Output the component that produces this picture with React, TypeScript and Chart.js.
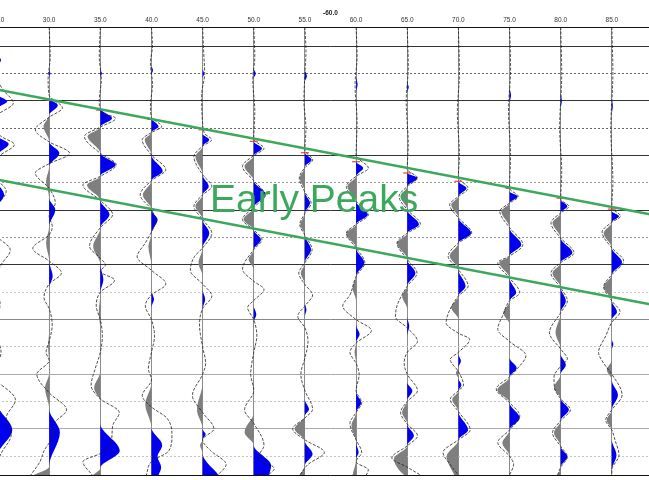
import React, { useEffect, useRef } from "react";
import { Chart, registerables } from "chart.js";

Chart.register(...registerables);

// ---- data -------------------------------------------------------------
const traceOffsets = [25, 30, 35, 40, 45, 50, 55, 60, 65, 70, 75, 80, 85];
const xTickLabels = ["25.0", "30.0", "35.0", "40.0", "45.0", "50.0", "55.0", "60.0", "65.0", "70.0", "75.0", "80.0", "85.0"];
const shotLabel = "-60.0";
const annotationText = "Early Peaks";
const annotationAt = [45.73, 40.29];
const yGridValues = [6.5, 10, 15, 20, 25, 30, 35, 40, 45, 50, 55, 60, 65, 70, 75, 80, 85, 88.43];

// first-break picks (time) for offsets 30..85
const pickOffsets = [30, 35, 40, 45, 50, 55, 60, 65, 70, 75, 80, 85];
const pickTimes = [19.9, 21.7, 23.4, 25.3, 27.4, 29.5, 31.15, 33.2, 34.7, 36.0, 37.8, 39.8];

// green guide lines [offset, time]
const upperLine = [[25, 17.97], [90, 41.2]];
const lowerLine = [[25, 34.43], [90, 57.66]];

// filled wiggle traces: [time, amplitude]
const fill25 = [[6.5,0],[11.5,0],[12.6,0.3],[13.6,0],[18.9,0],[20.1,0.9],[21.4,0],[23.9,-0.8],[26.5,0],[27.9,1.05],[29.9,0],[32.5,-0.8],[34.8,0],[37.2,0.6],[39.4,0],[42,-0.6],[45,0],[60,0],[62,-0.4],[65,0],[70,-0.8],[75.5,0],[80.2,1.4],[84.8,0],[87,-1.0],[88.43,-1.2]];
const fill30 = [[6.5,0],[14.2,0],[15,0.12],[15.8,0],[19.5,0],[20.8,0.85],[22.6,0],[24.7,-0.55],[27.45,0],[29.6,1.0],[32.0,0],[34.7,-0.3],[37.8,0],[39.9,0.6],[42.95,0],[46.0,-0.3],[49.3,0],[52.1,0.35],[54.2,0],[62,0],[65,-0.1],[68,0],[69.8,0],[72.5,-0.4],[76.3,0],[80.6,1.05],[86.9,0],[88.43,-1.5]];
const fill35 = [[6.5,0],[14.2,0],[15,0.15],[15.8,0],[21.4,0],[23.2,1.15],[24.8,0],[26.5,-1.25],[29.6,0],[31.7,1.5],[33.8,0],[35.4,-1.3],[38.2,0],[40.8,0.9],[43.25,0],[46.6,-0.7],[49.9,0],[52.7,0.3],[55.1,0],[58.75,-0.15],[61.8,0],[69.5,0],[72.5,-0.6],[75,0],[79,0],[84,1.9],[87.2,0],[88.43,-0.7]];
const fill40 = [[6.5,0],[13.5,0],[14.4,0.15],[15.3,0],[23.2,0],[24.7,0.7],[25.8,0],[27.1,-0.65],[29.9,0],[32.9,1.1],[34.6,0],[37.2,-0.85],[39.9,0],[41.7,0.6],[44.3,0],[46.6,-0.3],[50.2,0],[54.8,0],[56.3,0.25],[57.8,0],[71.5,0],[75.5,-0.6],[79.8,0],[83,1.05],[85.1,0.6],[87,0.95],[88.43,0.7]];
const fill45 = [[6.5,0],[14.1,0],[15,0.15],[15.9,0],[26.0,0],[27.1,0.65],[28.3,0],[30.2,-0.7],[33.5,0],[35.65,0.6],[37.2,0],[39.3,-0.7],[41.7,0],[44.2,0.65],[46.9,0],[49.6,-0.4],[52.1,0],[54.5,0],[56.3,0.25],[58.15,0],[71.5,0],[76.5,-0.55],[80,0],[81,0.3],[82,0],[83,-0.25],[84.5,0],[88.43,1.55]];
const fill50 = [[6.5,0],[14.1,0],[15,0.2],[15.9,0],[27.45,0],[28.7,0.8],[30.0,0],[32.0,-0.9],[34.6,0],[37.2,1.2],[39.5,0],[41.7,-1.0],[43.6,0],[45.4,0.7],[47.2,0],[49.0,-0.5],[50.85,0],[57.5,0],[59.1,0.25],[60.5,0],[77,0],[80.6,-0.9],[83,0],[86.7,1.7],[88.43,1.5]];
const fill55 = [[6.5,0],[14.3,0],[15.5,0.2],[16.5,0],[29.5,0],[30.8,0.65],[32.1,0],[34.1,-0.5],[36.7,0],[38.7,0.5],[40.6,0],[42.6,-0.45],[44.6,0],[47.2,0.6],[49.6,0],[51.5,-0.4],[53.6,0],[57,0],[58.2,0.15],[59.4,0],[74.6,0],[76.4,0.4],[77.6,0],[80,-1.0],[82.2,0],[84.6,0.75],[86.7,0],[88.43,-0.5]];
const fill60 = [[6.5,0],[15.5,0],[17,0.15],[18.5,0],[31.1,0],[32.3,0.7],[33.8,0],[35.65,-0.85],[38.4,0],[40.8,1.15],[42.6,0],[44.2,-0.95],[46.9,0],[49.6,0.8],[52.1,0],[54.2,-0.35],[56.6,0],[61,0],[62.7,0.35],[64.2,0],[66,-0.15],[67.9,0],[73.3,0],[75.2,0.5],[77,0],[79.4,-0.45],[82.5,0],[84.3,0.25],[85.5,0],[88.43,-0.35]];
const fill65 = [[6.5,0],[16.5,0],[17.5,0.15],[18.5,0],[33.2,0],[34.1,1.0],[35.65,0],[37.5,-0.65],[39.9,0],[42.6,1.15],[44.2,0],[46.0,-1.0],[49.0,0],[51.5,0.8],[53.9,0],[55.7,-0.5],[58.15,0],[59.5,0],[61.2,0.2],[63,0],[71.5,0],[73.0,0.5],[74.8,0],[77.0,-0.5],[79.1,0],[81.25,0.65],[83.1,0],[85.5,-1.3],[87.5,-0.8],[88.43,-0.3]];
const fill70 = [[6.5,0],[34.7,0],[36.0,0.8],[37.5,0],[39.0,-0.7],[41.4,0],[44.2,1.25],[46.0,0],[48.4,-0.85],[50.85,0],[53.9,0.7],[55.7,0],[57.8,-0.7],[60,0],[66.3,0],[67.6,0.25],[68.8,0],[69.8,-0.25],[70.8,0],[72,0.3],[73,0],[74.6,-0.6],[76.8,0],[80.2,0.95],[82,0],[85.1,-1.15],[88.43,-0.4]];
const fill75 = [[6.5,0],[17.5,0],[19,0.15],[20.5,0],[36.6,0],[37.5,0.8],[38.7,0],[40.2,-0.8],[43.25,0],[46.3,1.15],[48.4,0],[49.6,-1.0],[52.4,0],[55.1,0.65],[56.6,0],[58.75,-0.6],[60.9,0],[67,0],[68.9,0.7],[70.5,0],[72.9,-1.2],[75.2,0],[78,1.0],[80.2,0],[82.6,-0.7],[85,0],[88.43,0]];
const fill80 = [[6.5,0],[18.5,0],[20,0.12],[21.5,0],[38.1,0],[39.3,0.65],[40.5,0],[42.3,-0.8],[45.1,0],[47.8,1.15],[49.6,0],[51.5,-0.8],[54.2,0],[56.6,0.5],[58.75,0],[62.4,-0.5],[65.4,0],[66.3,0],[68.3,0.5],[70,0],[72.5,-0.65],[74.5,0],[76.5,0.8],[78.5,0],[80.7,-0.65],[83.2,0],[85.1,0.65],[87,0],[88.43,-0.3]];
const fill85 = [[6.5,0],[19.5,0],[21,0.1],[22.5,0],[40.2,0],[41.1,0.7],[42.2,0],[44.2,-0.8],[46.9,0],[49.5,1.0],[51.8,0],[54.0,-0.8],[56.6,0],[58.6,0.5],[60,0],[63.7,0],[64.5,0.15],[65.5,0],[67.4,0],[69.2,-0.5],[71.1,0],[73.8,0.6],[76.5,0],[78.4,-0.5],[80.2,0],[82,0],[84.8,0.45],[87.5,0],[88.43,0]];

// thin dashed overlay traces: [time, amplitude]
const wiggle25 = [[6.5,0],[16,0],[18,0.5],[20.4,1.5],[22.5,0],[24.5,-0.6],[26.5,0.3],[28,1.6],[30,0.2],[33,-0.8],[36.5,0.8],[40,-0.3],[44,-0.4],[47.3,1.2],[50,0.3],[53,-0.3],[57,0.2],[62,-0.2],[66,0.3],[70,-0.5],[74.7,1.7],[78,0.8],[81,1.3],[84.5,0.3],[88.43,-0.5]];
const wiggle30 = [[6.5,0],[12,0.1],[16,-0.1],[19,0],[21.3,1.3],[23,0],[25.3,-1.35],[27.5,0],[29.6,2.0],[31.5,0],[33.2,-1.35],[36,0],[38.7,0.6],[41,0],[43,0.3],[44.5,0],[47,-1.6],[49.3,0],[51.5,1.2],[53.5,0],[56,-0.5],[58,0],[61,0.3],[64,0],[66,-0.3],[67.5,0],[70,-1.2],[73.4,0],[76.5,1.7],[79,0.5],[81.5,0.3],[84,-0.5],[86,-0.9],[88.43,-1.8]];
const wiggle35 = [[6.5,0],[12,-0.1],[16,0.1],[20,-0.1],[22,0],[23.2,1.5],[24.8,0],[26.5,-1.55],[29.6,0],[31.7,1.55],[33.8,0],[35.4,-1.7],[38.2,0],[40.8,1.2],[43.2,0],[46.6,-1.05],[48.8,0],[50,0.5],[51.2,0],[52.8,1.4],[55,0],[57.5,-0.4],[60,0],[63,0.2],[66,0],[69,-0.5],[72,-0.9],[74.5,0],[77,1.85],[79.5,1.2],[83,1.0],[84.5,0],[86,-1.7],[88.43,-0.8]];
const wiggle40 = [[6.5,0],[10,0.1],[13,-0.1],[17,0.1],[21,-0.1],[23,0],[24.7,1.0],[25.8,0],[27.1,-0.9],[29.9,0],[32.6,1.4],[34.6,0],[37.2,-1.1],[39.9,0],[42,0.4],[44,0],[46,-0.6],[48.5,-1.4],[51,0],[53.5,1.4],[55.5,0],[57.5,-0.6],[60,0],[63,0.3],[66,0],[69,-0.3],[71,0],[73.9,-0.9],[76,0],[78,1.5],[81.3,2.0],[84,1.7],[86,0],[88.43,-0.5]];
const wiggle45 = [[6.5,0],[11,0.1],[15,0.2],[19,-0.1],[24,0],[26,0.2],[27.1,0.9],[28.3,0],[30.2,-0.85],[33.5,0],[35.65,0.9],[37.2,0],[39.3,-0.85],[41.7,0],[44.2,0.9],[46.9,0],[48.5,-0.8],[51,-1.2],[53.5,0],[55.7,0.9],[58,0],[61,-0.3],[65,0],[68,0.3],[70,0],[73.9,-1.0],[77,0],[80,1.1],[82,0],[84,0.8],[86.5,2.3],[88.43,1.5]];
const wiggle50 = [[6.5,0],[12,0.1],[16,-0.1],[22,0.1],[27,0],[28.7,1.0],[30,0],[32,-1.1],[34.6,0],[37.2,1.1],[39.5,0],[41.7,-1.1],[43.6,0],[45.4,0.8],[47.2,0],[50.8,-1.1],[53,0],[54.5,1.0],[56.5,0],[57.8,-0.6],[60,0],[63,0.3],[66,0],[70,-0.3],[73,0],[76.5,-0.9],[79,0],[83,1.0],[85,0.5],[87.3,2.0],[88.43,1.4]];
const wiggle55 = [[6.5,0],[11,0.1],[15,0],[20,-0.1],[25,0.1],[29,0],[30.8,0.75],[32.2,0],[34.1,-0.55],[36.7,0],[38.7,0.6],[40.6,0],[42.6,-0.5],[44.6,0],[47.2,0.7],[49.6,0],[51.5,-0.6],[53.6,0],[55.5,0.75],[57.5,0],[59.4,-0.7],[61.5,0],[64,0.3],[67,0],[70,-0.4],[73,0],[76.4,0.75],[78,0],[80,-1.2],[82,0],[84.3,1.9],[86.5,0.3],[88.43,-0.5]];
const wiggle60 = [[6.5,0],[12,0.1],[17,-0.1],[24,0.1],[30,0],[32.3,1.2],[33.8,0],[35.65,-0.95],[38.4,0],[40.8,1.2],[42.6,0],[44.2,-0.95],[46.9,0],[49.6,0.85],[52.1,0],[55.5,-0.6],[57.5,-1.3],[60,0],[62,1.5],[64.3,0],[66,-0.6],[68,0],[70,0.3],[73,0],[75.2,0.55],[77,0],[79,-0.6],[82,0],[84.3,0.55],[86,0],[87.5,1.2],[88.43,1.0]];
const wiggle65 = [[6.5,0],[14,0.1],[20,-0.1],[28,0.1],[32.5,0],[34.1,1.0],[35.65,0],[37.5,-0.8],[39.9,0],[42.6,1.3],[44.2,0],[46,-1.0],[49,0],[51.5,0.95],[53.9,0],[57.5,-1.0],[59.5,-1.15],[61.5,0],[64,1.0],[66,0],[68,-0.3],[70,0],[73,1.0],[75,0],[77,-0.65],[79.1,0],[81.25,1.0],[83.1,0],[85.3,-1.5],[87,0],[88.43,1.3]];
const wiggle70 = [[6.5,0],[15,0.1],[22,-0.1],[30,0.1],[34,0],[36,0.95],[37.5,0],[39,-0.85],[41.4,0],[44.2,1.3],[46,0],[48.4,-1.0],[50.85,0],[53.9,0.95],[55.7,0],[58.5,-0.9],[60.6,-1.2],[62.5,0],[63.6,1.1],[66,0],[67.3,-0.8],[69.5,0],[72,0.5],[73,0],[74.6,-0.8],[76.8,0],[80.2,1.15],[82,0],[84.3,-1.5],[86.5,-0.8],[88.43,0]];
const wiggle75 = [[6.5,0],[14,0.1],[22,-0.1],[30,0.1],[36,0],[37.5,0.85],[38.7,0],[40.2,-0.95],[43.2,0],[46.3,1.3],[48.4,0],[49.6,-1.15],[52.4,0],[55.1,1.0],[56.6,0],[59,-0.6],[61.8,-1.15],[64,0],[66.6,1.6],[68.9,0.8],[70.5,0],[72.7,-1.3],[75.2,0],[77.6,1.0],[80.2,0],[82.5,-1.15],[85,0],[86.5,0.4],[88.43,0]];
const wiggle80 = [[6.5,0],[15,0.1],[25,-0.1],[33,0.1],[38,0],[39.3,0.8],[40.5,0],[42.3,-0.95],[45.1,0],[47.8,1.3],[49.6,0],[51.5,-0.95],[54.2,0],[56.6,0.65],[58.75,0],[62.4,-1.1],[65.4,0],[67.2,0.65],[68.5,0],[70.5,-0.65],[72.5,-0.6],[74.5,0],[76.5,0.95],[78.5,0],[80.7,-0.8],[83.2,0],[85.1,0.65],[87,0],[88.43,-0.3]];
const wiggle85 = [[6.5,0],[15,0.1],[25,-0.1],[35,0.1],[39.5,0],[41.1,0.85],[42.2,0],[44,-0.95],[46.9,0],[49.3,1.15],[51.8,0],[54,-0.8],[56.6,0],[58.6,0.8],[60.5,0],[63,-0.6],[66,-1.3],[68,-0.8],[70,0],[73.8,1.0],[76.5,0],[78.4,-0.6],[80.2,0],[82,0.3],[84.8,0.7],[87.5,0],[88.43,0]];

const fills = [fill25, fill30, fill35, fill40, fill45, fill50, fill55, fill60, fill65, fill70, fill75, fill80, fill85];
const wiggles = [wiggle25, wiggle30, wiggle35, wiggle40, wiggle45, wiggle50, wiggle55, wiggle60, wiggle65, wiggle70, wiggle75, wiggle80, wiggle85];

// ---- styles -------------------------------------------------------------
const GREEN = "#3ca85c";
const BLUE = "#0000ee";
const GREY = "#7f7f7f";

function buildDatasets() {
  const ds: any[] = [];
  ds.push({
    data: upperLine.map(([x, y]) => ({ x, y })),
    borderColor: GREEN, borderWidth: 2.5, fill: false, tension: 0, pointRadius: 0, order: 0,
  });
  ds.push({
    data: lowerLine.map(([x, y]) => ({ x, y })),
    borderColor: GREEN, borderWidth: 2.5, fill: false, tension: 0, pointRadius: 0, order: 0,
  });
  ds.push({
    data: pickOffsets.map((x, i) => ({ x, y: pickTimes[i] })),
    showLine: false, pointStyle: "line", pointRadius: 4, pointBorderColor: "#e02020",
    pointBorderWidth: 1, pointBackgroundColor: "#e02020", order: 1,
  });
  traceOffsets.forEach((off, i) => {
    const f = fills[i];
    ds.push({
      data: f.map(([y, a]) => ({ x: off + Math.max(a, 0), y })),
      fill: { value: off }, backgroundColor: BLUE, borderColor: "rgba(0,0,0,0)", borderWidth: 0,
      cubicInterpolationMode: "monotone", pointRadius: 0, order: 3,
    });
    ds.push({
      data: f.map(([y, a]) => ({ x: off + Math.min(a, 0), y })),
      fill: { value: off }, backgroundColor: GREY, borderColor: "rgba(0,0,0,0)", borderWidth: 0,
      cubicInterpolationMode: "monotone", pointRadius: 0, order: 3,
    });
    ds.push({
      data: wiggles[i].map(([y, a]) => ({ x: off + a, y })),
      fill: false, borderColor: "#222", borderWidth: 0.8, borderDash: [3, 1.5],
      cubicInterpolationMode: "monotone", pointRadius: 0, order: 2,
    });
  });
  return ds;
}

const annotationPlugin = {
  id: "earlyPeaksLabel",
  afterDatasetsDraw(chart: any) {
    const { ctx, scales } = chart;
    const px = scales.x.getPixelForValue(annotationAt[0]);
    const py = scales.y.getPixelForValue(annotationAt[1]);
    ctx.save();
    ctx.font = '39px "Liberation Sans", Arial, sans-serif';
    ctx.fillStyle = GREEN;
    ctx.textAlign = "left";
    ctx.textBaseline = "alphabetic";
    ctx.fillText(annotationText, px, py);
    ctx.restore();
  },
};

function gridColor(v: number) {
  if (v < 7 || v > 88) return "#111";
  if (v % 10 === 0) return v <= 50 ? "#333" : v === 60 ? "#888" : "#aaa";
  if (v <= 25) return "#666";
  if (v <= 45) return "#999";
  return "#c4c4c4";
}

export default function App() {
  const ref = useRef<HTMLCanvasElement | null>(null);
  useEffect(() => {
    if (!ref.current) return;
    const chart = new Chart(ref.current, {
      type: "line",
      data: { datasets: buildDatasets() },
      options: {
        indexAxis: "y",
        animation: false,
        responsive: true,
        maintainAspectRatio: false,
        events: [],
        layout: { padding: { top: 0, right: 0, bottom: 5, left: 0 } },
        plugins: { legend: { display: false }, tooltip: { enabled: false } },
        elements: { point: { radius: 0 } },
        scales: {
          x: {
            type: "linear",
            position: "top",
            min: 25,
            max: 90,
            afterBuildTicks: (axis: any) => {
              axis.ticks = traceOffsets.map((v) => ({ value: v }));
            },
            afterFit: (axis: any) => {
              axis.height = 27;
            },
            ticks: {
              callback: (_v: any, i: number) => xTickLabels[i],
              font: { size: 6.5, family: "Liberation Sans" },
              color: "#333",
              padding: 3,
              maxRotation: 0,
              autoSkip: false,
            },
            grid: { color: "#8c8c8c", lineWidth: 1, drawTicks: false },
            border: { display: true, color: "#111", width: 1 },
            title: {
              display: true,
              text: shotLabel,
              font: { size: 6.5, weight: "bold", family: "Liberation Sans" },
              color: "#222",
              padding: { top: 9, bottom: 0 },
            },
          },
          y: {
            type: "linear",
            reverse: true,
            min: 6.5,
            max: 88.43,
            afterBuildTicks: (axis: any) => {
              axis.ticks = yGridValues.map((v) => ({ value: v }));
            },
            afterFit: (axis: any) => {
              axis.width = 22;
            },
            ticks: { display: false },
            grid: {
              drawTicks: false,
              lineWidth: 1,
              color: (c: any) => (c.tick ? gridColor(c.tick.value) : "#111"),
            },
            border: {
              display: false,
              dash: (c: any) => {
                if (!c.tick) return [];
                const v = c.tick.value;
                if (v < 7 || v > 88 || v % 10 === 0) return [];
                return [2, 2];
              },
            },
          },
        },
      } as any,
      plugins: [annotationPlugin],
    });
    return () => chart.destroy();
  }, []);

  return (
    <div style={{ position: "fixed", left: 0, top: 0, width: 649, height: 480, overflow: "hidden", background: "#fff" }}>
      <div style={{ position: "absolute", left: -24, top: 0, width: 692, height: 480 }}>
        <canvas ref={ref} />
      </div>
    </div>
  );
}
